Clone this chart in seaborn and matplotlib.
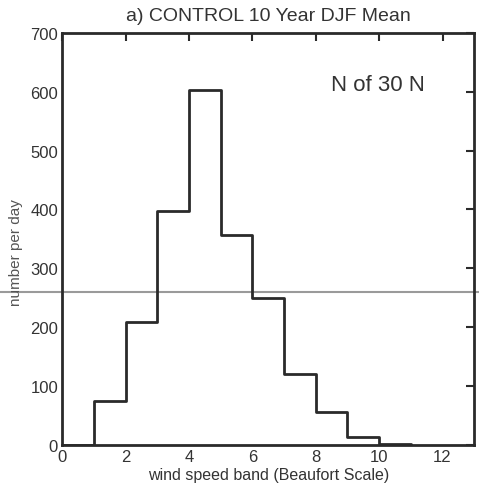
import matplotlib
matplotlib.use("Agg")
import matplotlib.pyplot as plt
import seaborn as sns
import numpy as np
import pandas as pd

# Beaufort wind speed bands (lower edges) and daily counts
band_lower = [0, 1, 2, 3, 4, 5, 6, 7, 8, 9, 10]
counts = [0, 75, 209, 398, 603, 357, 250, 120, 56, 14, 2]
x_ticks = [0, 2, 4, 6, 8, 10, 12]
y_ticks = [0, 100, 200, 300, 400, 500, 600, 700]
ref_level = 260

sns.set_style("white")
plt.rcParams["font.family"] = ["Liberation Sans", "DejaVu Sans"]

df = pd.DataFrame({"band": np.array(band_lower) + 0.5, "count": counts})
edges = list(range(0, 12))

fig = plt.figure(figsize=(4.79, 4.89), dpi=100)
ax = fig.add_axes([0.130, 0.088, 0.860, 0.843])
ax.patch.set_alpha(0)

sns.histplot(data=df, x="band", weights="count", bins=edges,
             element="step", fill=False, color="#2a2a2a", linewidth=2.0, ax=ax)

ax.set_xlim(0, 13)
ax.set_ylim(0, 700)
ax.set_xticks(x_ticks)
ax.set_yticks(y_ticks)
ax.tick_params(direction="in", length=6, width=1.5, top=True, right=True,
               labelsize=12, colors="#2a2a2a", pad=3)
ax.tick_params(axis="x", labelcolor="#333333")
ax.tick_params(axis="y", labelcolor="#333333")
for s in ax.spines.values():
    s.set_linewidth(2.0)
    s.set_color("#2a2a2a")
    s.set_visible(True)

ax.set_xlabel("wind speed band (Beaufort Scale)", fontsize=11.5, color="#333333", labelpad=2)
ax.set_ylabel("number per day", fontsize=11, color="#555555", labelpad=2)
ax.yaxis.set_label_coords(-0.095, 0.47)
ax.set_title("a) CONTROL 10 Year DJF Mean", fontsize=14, color="#333333", pad=9)
ax.text(0.88, 0.875, "N of 30 N", transform=ax.transAxes, ha="right", va="center",
        fontsize=16, color="#333333")

# faint horizontal rule across the whole sheet at the reference level
y_fig = fig.transFigure.inverted().transform(ax.transData.transform((0, ref_level)))[1]
fig.add_artist(plt.Line2D([0, 1], [y_fig, y_fig], transform=fig.transFigure,
                          color="#9a9a9a", linewidth=1.5, zorder=0))

fig.savefig("out.png", dpi=100, facecolor="white")
